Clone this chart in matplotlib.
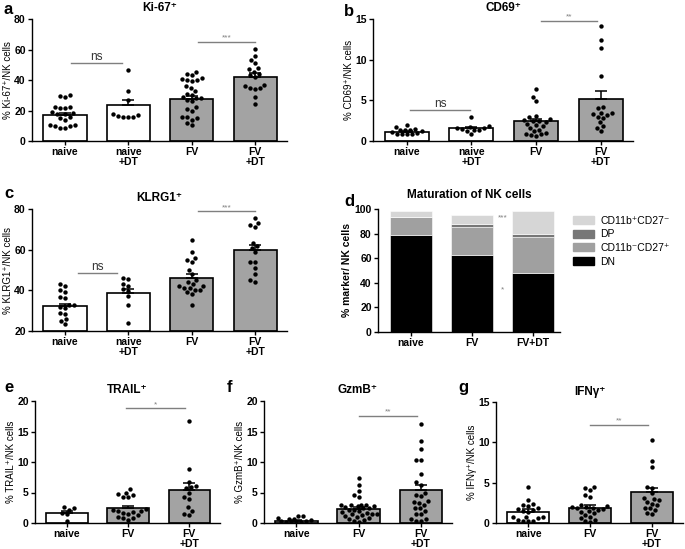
import numpy as np
import matplotlib
matplotlib.use('Agg')
import matplotlib.pyplot as plt
from matplotlib.patches import Patch

plt.rcParams['font.family'] = ['Liberation Sans', 'DejaVu Sans']
plt.rcParams['font.size'] = 7.5

W, H = 685, 549

# --- data ---
groups4 = ['naive', 'naive\n+DT', 'FV', 'FV\n+DT']
groups3 = ['naive', 'FV', 'FV\n+DT']

ki67_pts = [
    [30, 29.5, 29, 22.5, 21.5, 21.5, 22, 19, 18, 17.5, 18.5, 15, 14, 15.5, 10.5, 10, 8.5, 8.5, 10, 10.5],
    [46.5, 32.5, 27, 18, 17, 15.5, 15.5, 15.5, 16.5],
    [45, 44, 43, 41, 40.5, 40, 40, 39.5, 36, 35, 33, 31, 30, 29, 28.5, 28, 27,
     26, 22, 21, 20, 16, 15.5, 15, 14, 12, 10.5],
    [60.5, 56, 53, 51, 48, 47, 45.5, 44, 43, 42, 37, 36, 35, 34.5, 34, 29, 24],
]
ki67_mean = [17, 23.5, 27.5, 42]
ki67_sem = [1.4, 3.6, 1.9, 2.4]

cd69_pts = [
    [2.0, 1.7, 1.5, 1.4, 1.3, 1.3, 1.2, 1.1, 1.0, 0.9, 0.9, 0.8, 0.8],
    [3.0, 1.8, 1.7, 1.6, 1.6, 1.5, 1.4, 1.3, 1.2, 0.8],
    [6.4, 5.4, 4.9, 3.1, 2.9, 2.7, 2.6, 2.5, 2.5, 2.3, 2.1, 2.0, 1.8, 1.6,
     1.4, 1.2, 1.0, 0.9, 0.8, 0.7, 0.6],
    [14.1, 12.4, 11.4, 8.0, 4.2, 4.0, 3.5, 3.4, 3.3, 3.2, 3.0, 2.8, 2.3, 1.8, 1.6, 1.2],
]
cd69_mean = [1.1, 1.55, 2.4, 5.2]
cd69_sem = [0.1, 0.2, 0.35, 1.0]

klrg1_pts = [
    [43, 42, 40, 39, 36.5, 36, 33, 33, 32, 31.5, 29, 28.5, 26, 25, 23.5],
    [46, 45.5, 43, 42, 40.5, 39.5, 37, 33, 24],
    [65, 59, 56, 55, 54, 50, 48, 45, 44, 43, 42, 42, 41, 41, 40, 40, 39, 38, 33],
    [75.5, 73, 72, 71, 63.5, 62, 61, 59, 54, 54, 51, 48, 45, 44],
]
klrg1_mean = [32.2, 38.6, 46.3, 59.8]
klrg1_sem = [1.3, 1.9, 1.8, 2.6]

trail_pts = [
    [2.6, 2.4, 2.2, 1.7, 1.4, 0.3],
    [5.6, 5.0, 4.7, 4.6, 4.3, 4.2, 2.3, 2.1, 2.0, 1.9, 1.8, 1.7, 1.5, 1.3, 1.0, 0.9, 0.8, 0.5],
    [16.8, 8.9, 6.7, 6.0, 5.9, 5.7, 5.0, 4.3, 4.0, 2.6, 2.0, 1.5, 1.3],
]
trail_mean = [1.6, 2.4, 5.4]
trail_sem = [0.35, 0.45, 1.1]

gzmb_pts = [
    [1.2, 1.1, 0.8, 0.7, 0.6, 0.5, 0.3, 0.2, 0.1, 0.1, 0.2, 0.3],
    [7.4, 6.2, 5.2, 4.6, 4.2, 3.0, 3.0, 2.9, 2.9, 2.8, 2.8, 2.7, 2.5, 2.5, 2.2,
     2.1, 2.0, 1.8, 1.7, 1.5, 1.5, 1.4, 1.3, 1.1, 1.0, 0.8, 0.6, 0.5, 0.3, 0.2],
    [16.2, 13.5, 12.2, 10.4, 10.3, 8.0, 6.7, 6.3, 5.0, 4.6, 4.4, 3.6, 3.5, 3.3,
     3.0, 2.5, 2.4, 2.0, 1.5, 1.4, 0.6, 0.6, 0.4, 0.3],
]
gzmb_mean = [0.4, 2.3, 5.4]
gzmb_sem = [0.1, 0.3, 0.9]

ifng_pts = [
    [4.5, 2.8, 2.3, 2.2, 2.1, 1.9, 1.7, 1.6, 1.5, 1.4, 0.8, 0.7, 0.7, 0.6, 0.4, 0.3, 0.3, 0.2],
    [4.5, 4.3, 4.1, 3.5, 3.2, 2.2, 2.1, 2.0, 2.0, 1.9, 1.8, 1.7, 1.6, 1.5, 1.4,
     1.2, 1.0, 0.8, 0.6, 0.4, 0.2, 0.1],
    [10.3, 7.7, 6.9, 4.5, 4.4, 3.7, 3.1, 3.0, 2.8, 2.6, 2.4, 2.2, 1.9, 1.8, 1.6, 1.3, 1.1],
]
ifng_mean = [1.4, 1.9, 3.8]
ifng_sem = [0.3, 0.3, 0.55]

# maturation (stacked, %)
mat_groups = ['naive', 'FV', 'FV+DT']
mat_dn = [79, 63, 48]
mat_cd27 = [14.5, 22, 29]
mat_dp = [0.3, 3, 3]
mat_cd11b = [4.5, 7, 18]

WHITE = 'white'
GREY = '#a3a3a3'
SIGC = '#7f7f7f'


def make_ax(x0, x1, ytop, ybot):
    return fig.add_axes([x0 / W, 1 - ybot / H, (x1 - x0) / W, (ybot - ytop) / H])


def style(ax):
    ax.spines['top'].set_visible(False)
    ax.spines['right'].set_visible(False)
    ax.spines['left'].set_linewidth(1.0)
    ax.spines['bottom'].set_linewidth(1.0)
    ax.tick_params(direction='out', length=3, width=1, labelsize=7.5, pad=1.5)
    for lab in ax.get_yticklabels() + ax.get_xticklabels():
        lab.set_fontweight('bold')


def swarm(ax, xc, vals, d=5.0, half=18):
    # greedy beeswarm in pixel space, kept inside the bar
    tr = ax.transData
    placed = []
    order = np.argsort(vals)
    out = np.zeros(len(vals))
    px0 = tr.transform((xc, 0))[0]
    pxu = tr.transform((xc + 1, 0))[0] - px0
    cands = sorted(np.arange(-half, half + 0.5, 1.0), key=lambda v: (abs(v), v))
    for i in order:
        py = tr.transform((xc, vals[i]))[1]
        best, bestd = 0.0, -1
        for off in cands:
            md = min([np.hypot(off - ox, py - oy) for ox, oy in placed] or [99])
            if md >= d:
                best = off
                break
            if md > bestd:
                best, bestd = off, md
        placed.append((best, py))
        out[i] = xc + best / pxu
    return out


def dot_panel(ax, labels, pts, means, sems, colors, ylim, yticks, ylabel, bottom=0):
    x = np.arange(len(labels))
    ax.set_xlim(x[0] - 0.52, x[-1] + 0.5)
    ax.set_ylim(*ylim)
    ax.set_yticks(yticks)
    ax.set_xticks(x)
    ax.set_xticklabels(labels, linespacing=1.0)
    h = np.array(means) - bottom
    ax.bar(x, h, bottom=bottom, width=0.68, color=colors, edgecolor='black',
           linewidth=1.2, zorder=1)
    ax.errorbar(x, means, yerr=[np.zeros(len(sems)), sems], fmt='none',
                ecolor='black', elinewidth=1.1, capsize=4, capthick=1.1, zorder=2)
    for i, vals in enumerate(pts):
        xs = swarm(ax, x[i], np.array(vals, dtype=float))
        ax.scatter(xs, vals, s=10, color='black', zorder=3, linewidths=0)
    ax.set_ylabel(ylabel, fontsize=7, labelpad=1)
    style(ax)


def sig(ax, x0, x1, y, txt, big=False):
    ax.plot([x0, x1], [y, y], color=SIGC, lw=1.0, clip_on=False)
    if big:
        ax.text((x0 + x1) / 2, y, txt, ha='center', va='bottom', fontsize=8.5, color='#333333')
    else:
        ax.text((x0 + x1) / 2, y, txt, ha='center', va='bottom', fontsize=6, color=SIGC)


def title(ax, txt, pad=4):
    ax.set_title(txt, fontsize=8.5, fontweight='bold', pad=pad)


fig = plt.figure(figsize=(W / 100, H / 100), dpi=100)

cols4 = [WHITE, WHITE, GREY, GREY]
cols3 = [WHITE, GREY, GREY]

# a
ax = make_ax(32, 287, 19, 141)
dot_panel(ax, groups4, ki67_pts, ki67_mean, ki67_sem, cols4, (0, 80), [0, 20, 40, 60, 80],
          '% Ki-67⁺/NK cells')
sig(ax, 0.1, 0.9, 51, 'ns', big=True)
sig(ax, 2.1, 3.0, 65, '***')
title(ax, 'Ki-67⁺', pad=6)

# b
ax = make_ax(373, 633, 19, 141)
dot_panel(ax, groups4, cd69_pts, cd69_mean, cd69_sem, cols4, (0, 15), [0, 5, 10, 15],
          '% CD69⁺/NK cells')
sig(ax, 0.05, 0.98, 3.8, 'ns', big=True)
sig(ax, 2.07, 2.95, 14.8, '**')
title(ax, 'CD69⁺', pad=6)

# c
ax = make_ax(32, 287, 209, 331)
dot_panel(ax, groups4, klrg1_pts, klrg1_mean, klrg1_sem, cols4, (20, 80), [20, 40, 60, 80],
          '% KLRG1⁺/NK cells', bottom=20)
sig(ax, 0.2, 0.82, 48.4, 'ns', big=True)
sig(ax, 2.1, 3.0, 79, '***')
title(ax, 'KLRG1⁺', pad=6)

# d
ax = make_ax(378, 560, 209, 332)
xm = np.arange(len(mat_groups))
b0 = np.array(mat_dn, dtype=float)
b1 = b0 + np.array(mat_cd27)
b2 = b1 + np.array(mat_dp)
ax.bar(xm, mat_dn, width=0.69, color='black', edgecolor='white', linewidth=0.4)
ax.bar(xm, mat_cd27, bottom=b0, width=0.69, color='#a0a0a0', edgecolor='white', linewidth=0.4)
ax.bar(xm, mat_dp, bottom=b1, width=0.69, color='#777777', edgecolor='white', linewidth=0.4)
ax.bar(xm, mat_cd11b, bottom=b2, width=0.69, color='#d6d6d6', edgecolor='white', linewidth=0.4)
ax.set_xlim(-0.54, 2.44)
ax.set_ylim(0, 100)
ax.set_yticks([0, 20, 40, 60, 80, 100])
ax.set_xticks(xm)
ax.set_xticklabels(mat_groups)
ax.set_ylabel('% marker/ NK cells', fontsize=7.5, fontweight='bold', labelpad=2)
ax.text(1.5, 93, '***', ha='center', va='center', fontsize=6, color=SIGC)
ax.text(1.5, 34, '*', ha='center', va='center', fontsize=6, color=SIGC)
style(ax)
title(ax, 'Maturation of NK cells', pad=8)
handles = [Patch(color='#d6d6d6'), Patch(color='#777777'), Patch(color='#a0a0a0'), Patch(color='black')]
ax.legend(handles, ['CD11b⁺CD27⁻', 'DP', 'CD11b⁻CD27⁺', 'DN'], loc='upper left',
          bbox_to_anchor=(1.05, 0.98), frameon=False, fontsize=7.5, handlelength=2.0,
          handleheight=0.8, labelspacing=0.35, handletextpad=0.6, borderaxespad=0)

# e
ax = make_ax(35, 220, 401, 523)
dot_panel(ax, groups3, trail_pts, trail_mean, trail_sem, cols3, (0, 20), [0, 5, 10, 15, 20],
          '% TRAIL⁺/NK cells')
sig(ax, 0.97, 1.93, 18.8, '*')
title(ax, 'TRAIL⁺', pad=6)

# f
ax = make_ax(264, 452, 401, 523)
dot_panel(ax, groups3, gzmb_pts, gzmb_mean, gzmb_sem, cols3, (0, 20), [0, 5, 10, 15, 20],
          '% GzmB⁺/NK cells')
sig(ax, 1.0, 1.94, 17.6, '**')
title(ax, 'GzmB⁺', pad=6)

# g
ax = make_ax(496, 683, 402, 523)
dot_panel(ax, groups3, ifng_pts, ifng_mean, ifng_sem, cols3, (0, 15), [0, 5, 10, 15],
          '% IFNγ⁺/NK cells')
sig(ax, 1.0, 1.93, 12.2, '**')
title(ax, 'IFNγ⁺', pad=5)

# panel letters
for lab, (px, py) in zip('abcdefg', [(4, 2), (344, 4), (4, 186), (344, 194), (4, 380), (227, 380), (458, 380)]):
    fig.text(px / W, 1 - py / H, lab, fontsize=12, fontweight='bold', va='top', ha='left')

fig.savefig('out.png', dpi=100)
